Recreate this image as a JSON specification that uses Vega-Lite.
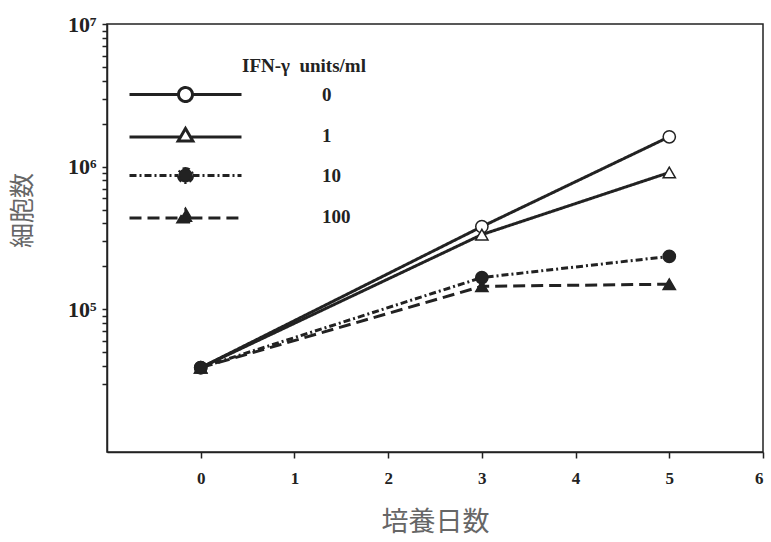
{
  "$schema": "https://vega.github.io/schema/vega-lite/v6.json",
  "width": 656,
  "height": 428,
  "autosize": "none",
  "padding": {"left": 107, "top": 24, "right": 8, "bottom": 90},
  "background": "white",
  "config": {
    "view": {"stroke": "#222", "strokeWidth": 1.5},
    "axis": {"grid": false, "domainColor": "#222", "domainWidth": 1.5, "tickColor": "#222", "tickWidth": 1.5, "labelFont": "Liberation Serif", "labelFontWeight": "bold", "labelColor": "#222", "titleFont": "Noto Sans CJK JP", "titleFontWeight": "normal", "titleColor": "#666"}
  },
  "data": {
    "values": [
      {"conc": "0", "day": 0, "cells": 39000},
      {"conc": "0", "day": 3, "cells": 380000},
      {"conc": "0", "day": 5, "cells": 1620000},
      {"conc": "1", "day": 0, "cells": 39000},
      {"conc": "1", "day": 3, "cells": 334000},
      {"conc": "1", "day": 5, "cells": 910000},
      {"conc": "10", "day": 0, "cells": 39000},
      {"conc": "10", "day": 3, "cells": 167000},
      {"conc": "10", "day": 5, "cells": 235000},
      {"conc": "100", "day": 0, "cells": 39000},
      {"conc": "100", "day": 3, "cells": 145000},
      {"conc": "100", "day": 5, "cells": 150000}
    ]
  },
  "encoding": {
    "x": {
      "field": "day", "type": "quantitative",
      "scale": {"domain": [-1, 6], "nice": false, "zero": false},
      "axis": {
        "title": "培養日数", "titleFontSize": 27, "titleY": 70, "titleBaseline": "middle",
        "values": [0, 0.5, 1, 1.5, 2, 2.5, 3, 3.5, 4, 4.5, 5, 5.5, 6],
        "format": "d",
        "labelExpr": "datum.value % 1 == 0 ? datum.label : ''",
        "labelFontSize": 17, "labelPadding": 12, "tickSize": 6
      }
    },
    "y": {
      "field": "cells", "type": "quantitative",
      "scale": {"type": "log", "domain": [10000, 10000000], "nice": false},
      "axis": {
        "title": "細胞数", "titleFontSize": 25, "titleX": -85, "titleY": 186, "titleBaseline": "middle",
        "values": [30000, 40000, 50000, 60000, 70000, 80000, 90000, 100000, 200000, 300000, 400000, 500000, 600000, 700000, 800000, 900000, 1000000, 2000000, 3000000, 4000000, 5000000, 6000000, 7000000, 8000000, 9000000, 10000000],
        "labelExpr": "datum.value == 100000 ? '10⁵' : datum.value == 1000000 ? '10⁶' : datum.value == 10000000 ? '10⁷' : ''",
        "labelFontSize": 22, "labelPadding": 6, "tickSize": 5
      }
    }
  },
  "layer": [
    {
      "mark": {"type": "line", "color": "#222", "strokeWidth": 3},
      "encoding": {
        "strokeDash": {
          "field": "conc", "type": "nominal",
          "scale": {"domain": ["0", "1", "10", "100"], "range": [[1, 0], [1, 0], [7, 3, 2, 3], [12, 6]]},
          "legend": {
            "orient": "none", "legendX": 69, "legendY": 33, "padding": 0,
            "title": "IFN-γ\u00a0\u00a0units/ml", "titleFont": "Liberation Serif", "titleFontSize": 19, "titleFontWeight": "bold", "titleColor": "#222", "titlePadding": 9,
            "labelFont": "Liberation Serif", "labelFontSize": 19, "labelFontWeight": "bold", "labelColor": "#222", "labelOffset": 127,
            "symbolSize": 196, "symbolStrokeWidth": 3, "symbolStrokeColor": "#222", "rowPadding": 14,
            "encode": {
              "title": {"update": {"dx": {"value": 66}}},
              "symbols": {"update": {
                "shape": {"signal": "(datum.value == '0' || datum.value == '10') ? 'M-8,0L-1,0M1,0L8,0M1,0A1,1,0,1,1,-1,0A1,1,0,1,1,1,0Z' : 'M-8,0.2L-0.7,0.2M0.7,0.2L8,0.2M-1.05,0.8L1.05,0.8L0,-1Z'"},
                "fill": {"signal": "(datum.value == '0' || datum.value == '1') ? 'white' : '#222'"},
                "stroke": {"value": "#222"},
                "strokeWidth": {"value": 3}
              }}
            }
          }
        }
      }
    },
    {
      "transform": [{"filter": "datum.conc == '0'"}],
      "mark": {"type": "point", "shape": "circle", "filled": true, "fill": "white", "stroke": "#222", "strokeWidth": 1.5, "size": 150, "opacity": 1}
    },
    {
      "transform": [{"filter": "datum.conc == '1'"}],
      "mark": {"type": "point", "shape": "triangle-up", "filled": true, "fill": "white", "stroke": "#222", "strokeWidth": 1.5, "size": 150, "opacity": 1}
    },
    {
      "transform": [{"filter": "datum.conc == '100'"}],
      "mark": {"type": "point", "shape": "triangle-up", "filled": true, "fill": "#222", "stroke": "#222", "strokeWidth": 1.5, "size": 150, "opacity": 1}
    },
    {
      "transform": [{"filter": "datum.conc == '10'"}],
      "mark": {"type": "point", "shape": "circle", "filled": true, "fill": "#222", "stroke": "#222", "strokeWidth": 1.5, "size": 150, "opacity": 1}
    }
  ]
}
